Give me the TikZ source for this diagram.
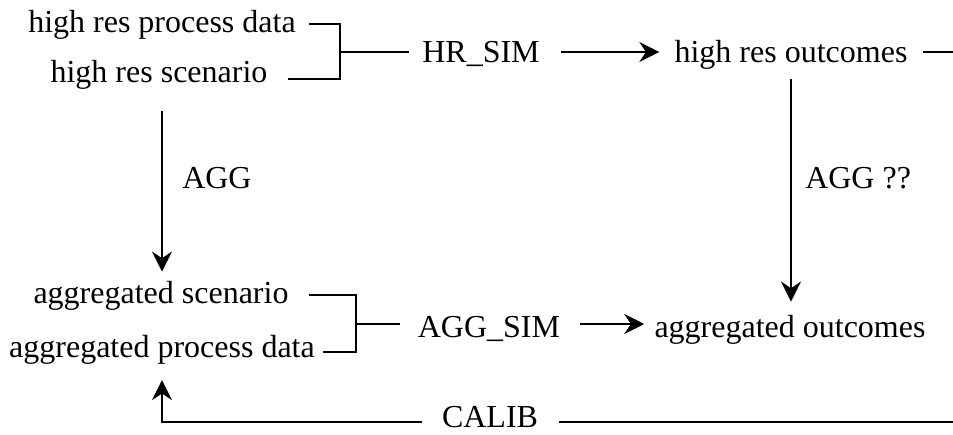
\documentclass[tikz,border=0pt]{standalone}
\usepackage{fontspec}
\setmainfont{Liberation Serif}
\usetikzlibrary{arrows.meta}
\tikzset{
  lbl/.style={font=\fontsize{24}{28}\selectfont, inner xsep=9.75pt, inner ysep=0pt, anchor=base},
  side/.style={font=\fontsize{24}{28}\selectfont, inner sep=0pt, anchor=base west},
  con/.style={line width=1.5pt},
  arr/.style={con, -{Stealth[length=15pt,width=15pt,inset=5pt]}}
}
\begin{document}
\begin{tikzpicture}[x=0.75pt,y=-0.75pt]
\useasboundingbox (0,0) rectangle (953,435);
% nodes (placed at their baselines)
\node[lbl] (hrpd) at (162,33) {high res process data};
\node[lbl] (hrsc) at (159,83) {high res scenario};
\node[lbl] (hrsim) at (481,63) {HR\_SIM};
\node[lbl] (hrout) at (791,63) {high res outcomes};
\node[side] (agg) at (182,188) {AGG};
\node[side] (aggq) at (805,188) {AGG ??};
\node[lbl] (agsc) at (161,303) {aggregated scenario};
\node[lbl] (agpd) at (162,357) {aggregated process data};
\node[lbl] (agsim) at (489,337) {AGG\_SIM};
\node[lbl] (agout) at (790,337) {aggregated outcomes};
\node[lbl] (calib) at (490,427) {CALIB};
\coordinate (b1) at (340,52);
\coordinate (b2) at (356,324);
\coordinate (e1) at (953,52);
\coordinate (e2) at (953,422);
% top bracket
\draw[con, shorten >=5.25pt] ([yshift=6.75pt]hrpd.base east) -| (b1) |- ([yshift=3pt]hrsc.base east);
\draw[con] (b1) -- ([yshift=8.25pt]hrsim.base west);
\draw[arr, shorten <=6pt, shorten >=1.5pt] ([yshift=8.25pt]hrsim.base east) -- ([yshift=8.25pt]hrout.base west);
\draw[con, shorten <=1.5pt] ([yshift=8.25pt]hrout.base east) -- (e1);
% bottom bracket
\draw[con, shorten <=5.25pt, shorten >=-3.75pt] ([yshift=6pt]agsc.base east) -| (b2) |- ([yshift=3.75pt]agpd.base east);
\draw[con, shorten >=3.75pt] (b2) -- ([yshift=9.75pt]agsim.base west);
\draw[arr, shorten <=5.25pt, shorten >=-2.25pt] ([yshift=9.75pt]agsim.base east) -- ([yshift=9.75pt]agout.base west);
% vertical arrows
\draw[arr, shorten <=15.75pt, shorten >=6.75pt] (hrsc.south -| agpd) -- (agsc.north -| agpd);
\draw[arr, shorten <=6.75pt, shorten >=9.75pt] (hrout.south) -- (hrout.south |- agout.north);
% calibration
\draw[con, shorten <=6pt] ([yshift=3.75pt]calib.base east) -- (e2);
\draw[arr, shorten <=5.25pt, shorten >=12pt] ([yshift=3.75pt]calib.base west) -| (agpd.south);
\end{tikzpicture}
\end{document}
